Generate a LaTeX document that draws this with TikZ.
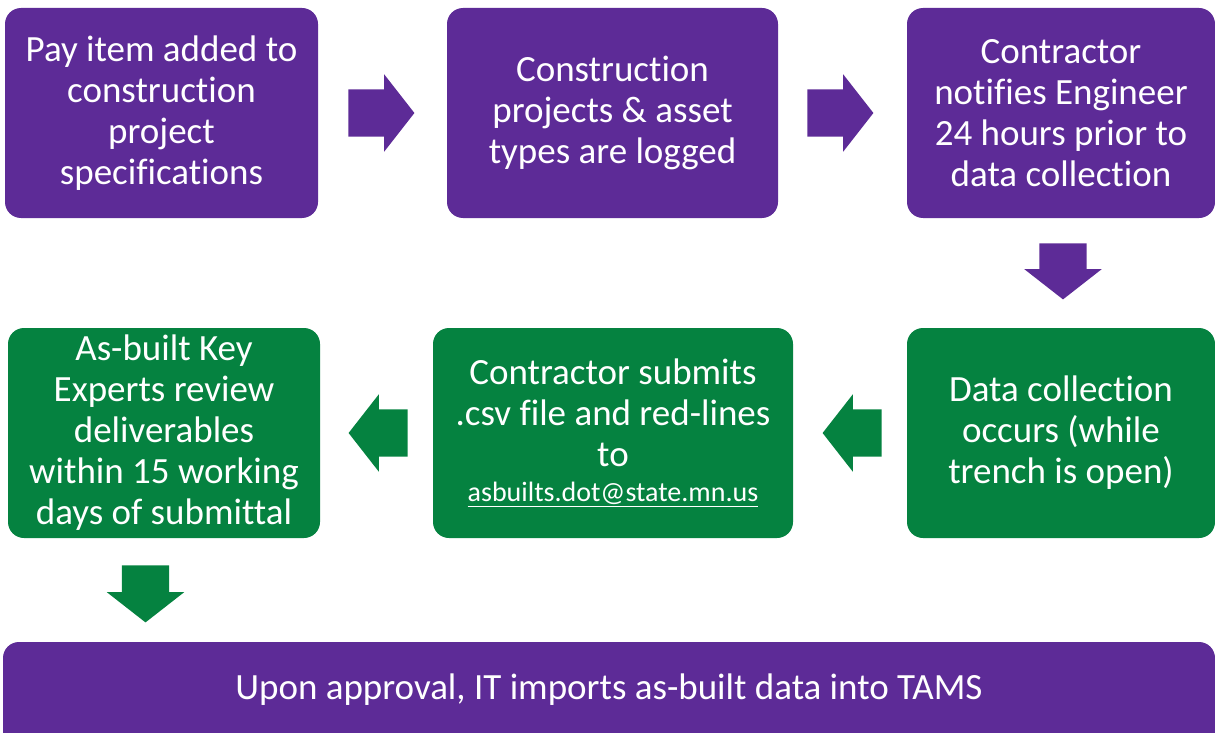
\documentclass[tikz,border=0pt]{standalone}
\usepackage{fontspec}
\setmainfont{Carlito}[Ligatures=NoCommon]
\usetikzlibrary{shapes.arrows,calc}

\definecolor{mnpurple}{RGB}{93,43,151}
\definecolor{mngreen}{RGB}{5,130,64}

\tikzset{
    stepbox/.style={rectangle, rounded corners=16pt, inner sep=0pt, text=white,
        align=center, font=\fontsize{37}{41}\selectfont},
    purplestep/.style={stepbox, fill=mnpurple},
    greenstep/.style={stepbox, fill=mngreen},
    blockarrow/.style={single arrow, single arrow head extend=15pt, anchor=tail,
        single arrow tip angle=104, inner xsep=0pt, inner ysep=23.5pt},
    downarrow/.style={blockarrow, shape border rotate=270, inner xsep=23.5pt, inner ysep=0pt},
    leftarrow/.style={blockarrow, shape border rotate=180},
}

\begin{document}
\begin{tikzpicture}[x=1pt,y=-1pt]
    \useasboundingbox (0,0) rectangle (1215,733);
    \clip (0,0) rectangle (1215,733);

    % top row
    \node[purplestep, minimum width=313pt, minimum height=210pt] (payitem) at (161.5,113)
        {Pay item added to\\construction\\project\\specifications};
    \node[purplestep, minimum width=331pt, minimum height=210pt] (logged) at (612.5,113)
        {Construction\\projects \& asset\\types are logged};
    \node[purplestep, minimum width=308pt, minimum height=210pt] (notify) at (1061,113)
        {Contractor\\notifies Engineer\\24 hours prior to\\data collection};

    % middle row
    \node[greenstep, minimum width=308pt, minimum height=210pt] (collect) at (1061,433)
        {Data collection\\occurs (while\\trench is open)};
    \node[greenstep, minimum width=360pt, minimum height=210pt] (submit) at (613,433)
        {Contractor submits\\.csv file and red-lines\\to\\[-6pt]{\fontsize{28}{34}\selectfont\underline{asbuilts.dot@state.mn.us}}};
    \node[greenstep, minimum width=312pt, minimum height=210pt] (review) at (164,433)
        {As-built Key\\Experts review\\deliverables\\within 15 working\\days of submittal};

    % bottom bar
    \node[purplestep, minimum width=1212pt, minimum height=111pt, text height=26pt, text depth=22pt]
        (approval) at (609,697.5) {Upon approval, IT imports as-built data into TAMS};

    % arrows
    \node[blockarrow, fill=mnpurple, minimum height=66pt] (arr1) at ([xshift=30pt]payitem.east) {};
    \node[blockarrow, fill=mnpurple, minimum height=66pt] (arr2) at ([xshift=29pt]logged.east) {};
    \node[downarrow, fill=mnpurple, minimum height=56pt] (arr3) at ([xshift=2pt,yshift=-25pt]notify.south) {};
    \node[leftarrow, fill=mngreen, minimum height=59pt] (arr4) at ([xshift=-25pt]collect.west) {};
    \node[leftarrow, fill=mngreen, minimum height=59pt] (arr5) at ([xshift=-25pt]submit.west) {};
    \node[downarrow, fill=mngreen, minimum height=57pt] (arr6) at ([xshift=-18.5pt,yshift=-27pt]review.south) {};
\end{tikzpicture}
\end{document}
